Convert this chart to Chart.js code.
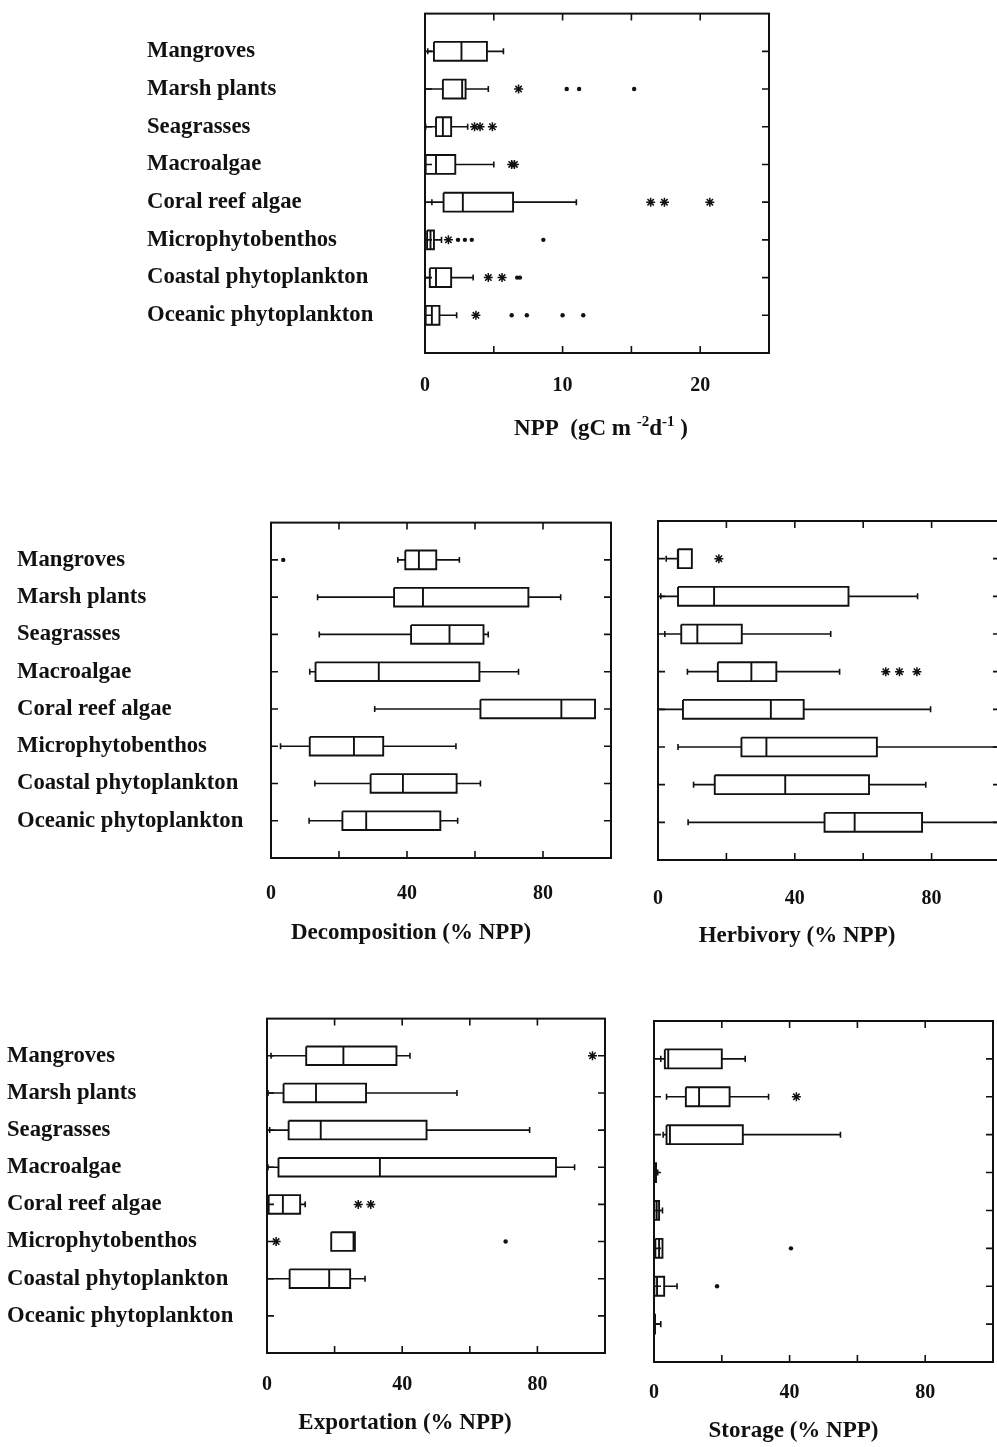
<!DOCTYPE html>
<html lang="en">
<head>
  <meta charset="UTF-8" />
  <title>NPP and fate of NPP for coastal primary producers</title>
  <script src="https://cdn.jsdelivr.net/npm/chart.js"></script>
  <style>
    html, body { margin: 0; padding: 0; background: #fff; overflow: hidden; }
    #page { position: relative; width: 997px; height: 1447px; overflow: hidden; background: #fff; }
    canvas { position: absolute; }
  </style>
</head>
<body>
  <div id="page">
    <canvas id="npp" width="630" height="453" style="left:147px;top:0px"></canvas>
    <canvas id="decomp" width="602" height="449" style="left:17px;top:509px"></canvas>
    <canvas id="herb" width="358" height="449" style="left:650px;top:511px"></canvas>
    <canvas id="export" width="606" height="442" style="left:7px;top:1005px"></canvas>
    <canvas id="storage" width="355" height="436" style="left:646px;top:1011px"></canvas>
  </div>

  <script>
    const categories = ['Mangroves', 'Marsh plants', 'Seagrasses', 'Macroalgae',
      'Coral reef algae', 'Microphytobenthos', 'Coastal phytoplankton', 'Oceanic phytoplankton'];

    // NPP (gC m-2 d-1)
    const nppLow   = [0.2, 0.0, 0.05, 0.0, 0.5, null, 0.0, null];
    const nppQ1    = [0.65, 1.3, 0.8, 0.05, 1.35, 0.15, 0.35, 0.05];
    const nppMed   = [2.65, 2.7, 1.3, 0.8, 2.75, 0.4, 0.8, 0.5];
    const nppQ3    = [4.5, 2.95, 1.9, 2.2, 6.4, 0.65, 1.9, 1.05];
    const nppHigh  = [5.7, 4.6, 3.1, 5.0, 11.0, 1.2, 3.5, 2.3];
    const nppStars = [[], [6.8], [3.6, 4.0, 4.9], [6.3, 6.5], [16.4, 17.4, 20.7], [1.7], [4.6, 5.6], [3.7]];
    const nppDots  = [[], [10.3, 11.2, 15.2], [], [], [], [2.4, 2.9, 3.4, 8.6], [6.7, 6.9], [6.3, 7.4, 10.0, 11.5]];
    const nppTicks = [0, 10, 20];

    // Decomposition (% NPP)
    const decLow   = [37.3, 13.7, 14.2, 11.4, 30.5, 2.8, 12.9, 11.2];
    const decQ1    = [39.5, 36.2, 41.2, 13.1, 61.6, 11.4, 29.3, 21.0];
    const decMed   = [43.5, 44.7, 52.5, 31.7, 85.4, 24.4, 38.8, 28.0];
    const decQ3    = [48.6, 75.7, 62.5, 61.3, 95.3, 33.0, 54.6, 49.8];
    const decHigh  = [55.4, 85.2, 63.9, 72.8, null, 54.4, 61.6, 54.9];
    const decStars = [[], [], [], [], [], [], [], []];
    const decDots  = [[3.6], [], [], [], [], [], [], []];

    // Herbivory (% NPP)
    const herLow   = [2.4, 0.8, 2.0, 8.6, 0.0, 5.85, 10.4, 8.8];
    const herQ1    = [5.8, 5.85, 6.8, 17.5, 7.3, 24.4, 16.6, 48.7];
    const herMed   = [5.9, 16.4, 11.5, 27.3, 33.0, 31.7, 37.2, 57.5];
    const herQ3    = [9.9, 55.7, 24.5, 34.6, 42.6, 64.0, 61.7, 77.2];
    const herHigh  = [null, 75.9, 50.5, 53.1, 79.7, 100, 78.3, 100];
    const herStars = [[17.8], [], [], [66.6, 70.6, 75.7], [], [], [], []];
    const herDots  = [[], [], [], [], [], [], [], []];

    // Exportation (% NPP)
    const expLow   = [1.2, 0.3, 0.8, 0.3, null, null, 0.0, null];
    const expQ1    = [11.6, 4.9, 6.4, 3.4, 0.5, 19.0, 6.7, null];
    const expMed   = [22.6, 14.5, 15.9, 33.4, 4.7, 25.6, 18.4, null];
    const expQ3    = [38.3, 29.3, 47.2, 85.5, 9.8, 26.0, 24.6, null];
    const expHigh  = [42.3, 56.2, 77.7, 91.0, 11.3, null, 29.0, null];
    const expStars = [[96.3], [], [], [], [27.0, 30.7], [2.7], [], []];
    const expDots  = [[], [], [], [], [], [70.6], [], []];

    // Storage (% NPP)
    const stoLow   = [2.0, 3.7, 2.7, null, null, null, null, null];
    const stoQ1    = [3.2, 9.4, 3.7, 0.1, 0.1, 0.4, 0.1, 0.0];
    const stoMed   = [4.2, 13.3, 4.7, 0.3, 0.8, 1.5, 0.9, 0.15];
    const stoQ3    = [20.0, 22.3, 26.2, 0.6, 1.5, 2.5, 3.0, 0.3];
    const stoHigh  = [26.9, 33.8, 55.0, 1.1, 2.5, null, 6.8, 2.0];
    const stoStars = [[], [42.0], [], [], [], [], [], []];
    const stoDots  = [[], [], [], [], [], [40.4], [18.6], []];

    const pctTicks = [0, 40, 80];

    const INK = '#111';
    const SERIF = "'Liberation Serif', 'Times New Roman', serif";
    const GAP = { x: null, y: null };
    const HALF_BOX = 0.25;   // half box height, in row units
    const HALF_CAP = 0.08;

    function boxLines(low, q1, med, q3, high) {
      const boxes = [], medians = [], whiskers = [];
      q1.forEach((a, i) => {
        if (a === null) return;
        const r = i + 1, b = q3[i];
        boxes.push({ x: a, y: r - HALF_BOX }, { x: b, y: r - HALF_BOX }, { x: b, y: r + HALF_BOX },
                   { x: a, y: r + HALF_BOX }, { x: a, y: r - HALF_BOX }, GAP);
        medians.push({ x: med[i], y: r - HALF_BOX }, { x: med[i], y: r + HALF_BOX }, GAP);
        if (low[i] !== null) {
          whiskers.push({ x: low[i], y: r }, { x: a, y: r }, GAP,
                        { x: low[i], y: r - HALF_CAP }, { x: low[i], y: r + HALF_CAP }, GAP);
        }
        if (high[i] !== null) {
          whiskers.push({ x: b, y: r }, { x: high[i], y: r }, GAP,
                        { x: high[i], y: r - HALF_CAP }, { x: high[i], y: r + HALF_CAP }, GAP);
        }
      });
      return { boxes, medians, whiskers };
    }

    function outlierPoints(list) {
      const pts = [];
      list.forEach((vals, i) => vals.forEach(v => pts.push({ x: v, y: i + 1 })));
      return pts;
    }

    // frame with inward ticks on all four sides
    const framePlugin = {
      id: 'frame',
      afterDraw(chart) {
        const { ctx, chartArea: a, scales: { x, y } } = chart;
        ctx.save();
        ctx.strokeStyle = INK;
        ctx.lineWidth = 2;
        ctx.strokeRect(a.left, a.top, a.right - a.left, a.bottom - a.top);
        ctx.lineWidth = 1.6;
        ctx.beginPath();
        x.ticks.forEach(t => {
          if (t.value <= x.min || t.value >= x.max) return;
          const px = x.getPixelForValue(t.value);
          ctx.moveTo(px, a.top); ctx.lineTo(px, a.top + 7);
          ctx.moveTo(px, a.bottom); ctx.lineTo(px, a.bottom - 7);
        });
        categories.forEach((c, i) => {
          const py = y.getPixelForValue(i + 1);
          ctx.moveTo(a.left, py); ctx.lineTo(a.left + 7, py);
          ctx.moveTo(a.right, py); ctx.lineTo(a.right - 7, py);
        });
        ctx.stroke();
        ctx.restore();
      }
    };

    // x axis title, with optional superscript parts
    const titlePlugin = {
      id: 'axisTitle',
      afterDraw(chart, args, opts) {
        if (!opts.parts) return;
        const { ctx, chartArea: a } = chart;
        const big = 'bold 23px ' + SERIF, small = 'bold 15px ' + SERIF;
        ctx.save();
        ctx.fillStyle = INK;
        ctx.textBaseline = 'alphabetic';
        let w = 0;
        opts.parts.forEach(p => { ctx.font = p[1] ? small : big; w += ctx.measureText(p[0]).width; });
        let cx = (a.left + a.right) / 2 + opts.dx - w / 2;
        const base = a.bottom + opts.dy + 7;
        opts.parts.forEach(p => {
          ctx.font = p[1] ? small : big;
          ctx.fillText(p[0], cx, p[1] ? base - 9 : base);
          cx += ctx.measureText(p[0]).width;
        });
        ctx.restore();
      }
    };

    function makePanel(id, o) {
      const lines = boxLines(o.low, o.q1, o.med, o.q3, o.high);
      const lineStyle = { showLine: true, borderColor: INK, pointRadius: 0, spanGaps: false, fill: false };
      new Chart(document.getElementById(id), {
        type: 'scatter',
        data: {
          datasets: [
            Object.assign({ label: 'box', data: lines.boxes, borderWidth: 1.9 }, lineStyle),
            Object.assign({ label: 'median', data: lines.medians, borderWidth: 1.9 }, lineStyle),
            Object.assign({ label: 'whisker', data: lines.whiskers, borderWidth: 1.6 }, lineStyle),
            { label: 'outlier *', data: outlierPoints(o.stars), pointStyle: 'star', pointRadius: 4.5,
              borderWidth: 1.5, borderColor: INK, backgroundColor: INK },
            { label: 'outlier', data: outlierPoints(o.dots), pointStyle: 'circle', pointRadius: 2.2,
              borderWidth: 0, backgroundColor: INK }
          ]
        },
        options: {
          responsive: false,
          animation: false,
          events: [],
          layout: { padding: { left: o.showLabels ? 0 : 8, right: 8, top: 10, bottom: 0 } },
          plugins: {
            legend: { display: false },
            tooltip: { enabled: false },
            axisTitle: { parts: o.title, dx: o.dx, dy: o.dy }
          },
          scales: {
            x: {
              type: 'linear', min: 0, max: o.xMax,
              ticks: {
                stepSize: o.step, autoSkip: false, maxRotation: 0, padding: 0, color: INK,
                font: { family: SERIF, size: 20, weight: 'bold' },
                callback: v => o.labels.includes(v) ? String(v) : ''
              },
              // tick marks hidden, tickLength only moves the labels down
              grid: { display: false, drawTicks: true, tickLength: o.tickPad },
              border: { display: false },
              afterFit: s => { s.height = o.xHeight; }
            },
            y: {
              type: 'linear', reverse: true, min: 0, max: 9,
              display: o.showLabels,
              afterBuildTicks: s => { s.ticks = categories.map((c, i) => ({ value: i + 1 })); },
              ticks: {
                autoSkip: false, crossAlign: 'far', padding: 0, color: INK,
                font: { family: SERIF, size: 22.7, weight: 'bold' },
                callback: v => categories[v - 1]
              },
              grid: { display: false, drawTicks: false },
              border: { display: false },
              afterFit: s => { s.width = o.yWidth; }
            }
          }
        },
        plugins: [framePlugin, titlePlugin]
      });
    }

    makePanel('npp', {
      low: nppLow, q1: nppQ1, med: nppMed, q3: nppQ3, high: nppHigh, stars: nppStars, dots: nppDots,
      xMax: 25, step: 5, labels: nppTicks, showLabels: true, yWidth: 278, xHeight: 100, tickPad: 21,
      title: [['NPP  (gC m ', false], ['-2', true], ['d', false], ['-1', true], [' )', false]], dx: 4, dy: 75
    });
    makePanel('decomp', {
      low: decLow, q1: decQ1, med: decMed, q3: decQ3, high: decHigh, stars: decStars, dots: decDots,
      xMax: 100, step: 20, labels: pctTicks, showLabels: true, yWidth: 254, xHeight: 100, tickPad: 24,
      title: [['Decomposition (% NPP)', false]], dx: -30, dy: 74
    });
    makePanel('herb', {
      low: herLow, q1: herQ1, med: herMed, q3: herQ3, high: herHigh, stars: herStars, dots: herDots,
      xMax: 100, step: 20, labels: pctTicks, showLabels: false, yWidth: 0, xHeight: 100, tickPad: 27,
      title: [['Herbivory (% NPP)', false]], dx: -32, dy: 75
    });
    makePanel('export', {
      low: expLow, q1: expQ1, med: expMed, q3: expQ3, high: expHigh, stars: expStars, dots: expDots,
      xMax: 100, step: 20, labels: pctTicks, showLabels: true, yWidth: 260, xHeight: 94, tickPad: 20,
      title: [['Exportation (% NPP)', false]], dx: -31, dy: 69
    });
    makePanel('storage', {
      low: stoLow, q1: stoQ1, med: stoMed, q3: stoQ3, high: stoHigh, stars: stoStars, dots: stoDots,
      xMax: 100, step: 20, labels: pctTicks, showLabels: false, yWidth: 0, xHeight: 85, tickPad: 19,
      title: [['Storage (% NPP)', false]], dx: -30, dy: 68
    });
  </script>
</body>
</html>
